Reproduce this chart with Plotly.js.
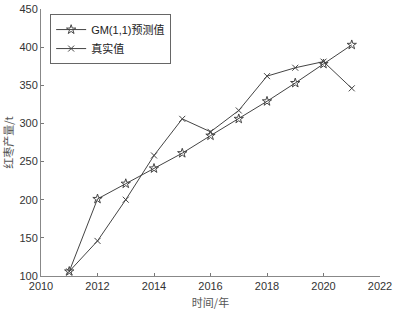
<!DOCTYPE html>
<html><head><meta charset="utf-8">
<script src="https://cdn.plot.ly/plotly-3.0.1.min.js"></script>
<style>html,body{margin:0;padding:0;background:#fff}#c{width:394px;height:312px}</style>
</head><body><div id="c"></div>
<script>
const years = [2011,2012,2013,2014,2015,2016,2017,2018,2019,2020,2021];
const gmPred = [106,201,221,241,261,284,306,329,353,378,403];
const actual = [106,146,200,258,306,289,317,362,373,381,346];
const seriesNames = ['GM(1,1)预测值','真实值'];
const xTicks = [2010,2012,2014,2016,2018,2020,2022];
const yTicks = [100,150,200,250,300,350,400,450];

const lineCol = '#444';
const traces = [
  {x: years, y: gmPred, name: seriesNames[0], mode: 'lines+markers',
   line: {color: lineCol, width: 1},
   marker: {symbol: 'star-open', size: 7, color: lineCol, line: {color: lineCol, width: 1}}},
  {x: years, y: actual, name: seriesNames[1], mode: 'lines+markers',
   line: {color: lineCol, width: 1},
   marker: {symbol: 'x-thin-open', size: 6, color: lineCol, line: {color: lineCol, width: 1}}}
];
const layout = {
  width: 394, height: 312,
  margin: {l: 41, r: 14, t: 9, b: 36},
  paper_bgcolor: '#fff', plot_bgcolor: '#fff',
  showlegend: true,
  legend: {x: 0.027, y: 0.981, xanchor: 'left', yanchor: 'top',
    bgcolor: '#fff', bordercolor: '#666', borderwidth: 1,
    font: {family: 'Liberation Sans, Noto Sans CJK SC', size: 11, color: '#222'},
    tracegroupgap: 0, itemwidth: 30},
  xaxis: {range: [2010, 2022], tickvals: xTicks, ticktext: xTicks.map(String),
    ticks: 'inside', ticklen: 3, tickcolor: '#777', showline: true, linecolor: '#888', linewidth: 1,
    showgrid: false, zeroline: false,
    tickfont: {family: 'Liberation Sans, Arial', size: 11, color: '#333'},
    title: {text: '时间/年', font: {family: 'Noto Sans CJK SC', size: 11, color: '#555'}, standoff: 8}},
  yaxis: {range: [100, 450], tickvals: yTicks, ticktext: yTicks.map(String),
    ticks: 'inside', ticklen: 3, tickcolor: '#777', showline: true, linecolor: '#888', linewidth: 1,
    showgrid: false, zeroline: false,
    tickfont: {family: 'Liberation Sans, Arial', size: 11, color: '#333'},
    title: {text: '红枣产量/t', font: {family: 'Noto Sans CJK SC', size: 11, color: '#555'}, standoff: 6}}
};
Plotly.newPlot('c', traces, layout, {displayModeBar: false, staticPlot: true});
</script></body></html>
